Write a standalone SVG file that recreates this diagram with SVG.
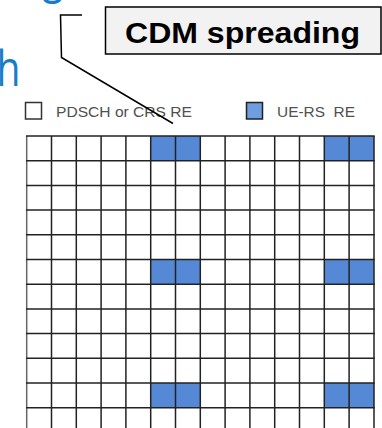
<svg xmlns="http://www.w3.org/2000/svg" width="382" height="428" viewBox="0 0 382 428">
<style>
.title{font-family:"Open Sans","Liberation Sans",sans-serif;fill:#1a7cc8;font-size:50px}
.leg{font-family:"Liberation Sans",Arial,sans-serif;fill:#505050;font-size:14.5px}
.cell{fill:#5589d6}
.grid line{stroke:#222;stroke-width:1.5}
.conn{fill:none;stroke:#000;stroke-width:1.5}
</style>
<rect width="382" height="428" fill="#fff"/>
<g id="title-fragment">
<text class="title" transform="translate(42,-8.5) scale(0.8,1)">g</text>
<text class="title" transform="translate(-3.5,86) scale(0.78,1)">h</text>
</g>
<g id="legend">
<rect x="25.5" y="102.5" width="16" height="16.5" fill="#fff" stroke="#333" stroke-width="1.5"/>
<text class="leg" x="56" y="117" textLength="136" lengthAdjust="spacingAndGlyphs">PDSCH or CRS RE</text>
<rect x="246.5" y="102.5" width="16" height="16.5" fill="#6e9de0" stroke="#222" stroke-width="1.5"/>
<text class="leg" x="277" y="117" xml:space="preserve" textLength="78" lengthAdjust="spacingAndGlyphs">UE-RS  RE</text>
</g>
<g id="grid">
<rect x="26.7" y="136" width="347.3" height="300" fill="#fff"/>
<g id="ue-rs-cells">
<rect class="cell" x="150.7" y="136" width="49.6" height="24.7"/>
<rect class="cell" x="324.3" y="136" width="49.7" height="24.7"/>
<rect class="cell" x="150.7" y="259.5" width="49.6" height="24.7"/>
<rect class="cell" x="324.3" y="259.5" width="49.7" height="24.7"/>
<rect class="cell" x="150.7" y="383" width="49.6" height="24.7"/>
<rect class="cell" x="324.3" y="383" width="49.7" height="24.7"/>
</g>
<g class="grid">
<line x1="26.7" y1="136" x2="26.7" y2="428" style="stroke:#666"/>
<line x1="51.5" y1="136" x2="51.5" y2="428"/>
<line x1="76.3" y1="136" x2="76.3" y2="428"/>
<line x1="101.1" y1="136" x2="101.1" y2="428"/>
<line x1="125.9" y1="136" x2="125.9" y2="428"/>
<line x1="150.7" y1="136" x2="150.7" y2="428"/>
<line x1="175.5" y1="136" x2="175.5" y2="428"/>
<line x1="200.3" y1="136" x2="200.3" y2="428"/>
<line x1="225.1" y1="136" x2="225.1" y2="428"/>
<line x1="249.9" y1="136" x2="249.9" y2="428"/>
<line x1="274.7" y1="136" x2="274.7" y2="428"/>
<line x1="299.5" y1="136" x2="299.5" y2="428"/>
<line x1="324.3" y1="136" x2="324.3" y2="428"/>
<line x1="349.1" y1="136" x2="349.1" y2="428"/>
<line x1="374" y1="136" x2="374" y2="428"/>
<line x1="26" y1="136" x2="374.7" y2="136"/>
<line x1="26" y1="160.7" x2="374.7" y2="160.7"/>
<line x1="26" y1="185.4" x2="374.7" y2="185.4"/>
<line x1="26" y1="210.1" x2="374.7" y2="210.1"/>
<line x1="26" y1="234.8" x2="374.7" y2="234.8"/>
<line x1="26" y1="259.5" x2="374.7" y2="259.5"/>
<line x1="26" y1="284.2" x2="374.7" y2="284.2"/>
<line x1="26" y1="308.9" x2="374.7" y2="308.9"/>
<line x1="26" y1="333.6" x2="374.7" y2="333.6"/>
<line x1="26" y1="358.3" x2="374.7" y2="358.3"/>
<line x1="26" y1="383" x2="374.7" y2="383"/>
<line x1="26" y1="407.7" x2="374.7" y2="407.7"/>
</g>
</g>
<g id="connectors">
<polyline class="conn" points="82,15 60.5,15 61.5,57.5 173,123.5"/>
</g>
<g id="cdm-label">
<rect x="105.5" y="7" width="275.5" height="47" fill="#f2f2f2" stroke="#000" stroke-width="1.5"/>
<text x="125" y="43" font-family="Liberation Sans, Arial, sans-serif" font-weight="bold" font-size="29" fill="#000" textLength="235" lengthAdjust="spacingAndGlyphs">CDM spreading</text>
</g>
</svg>
